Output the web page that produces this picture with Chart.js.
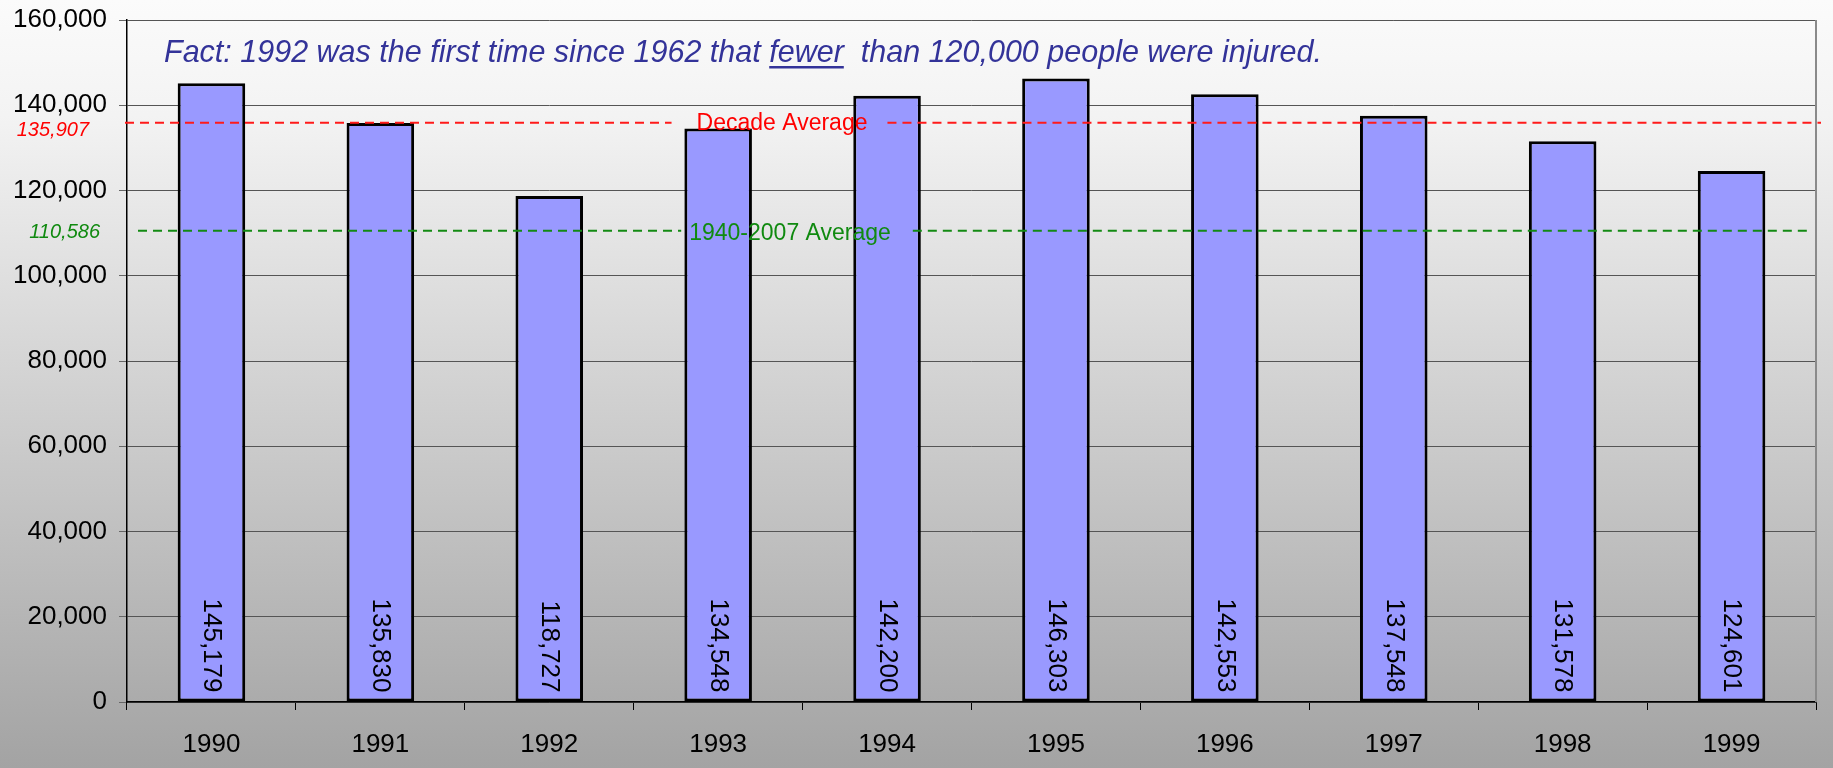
<!DOCTYPE html>
<html>
<head>
<meta charset="utf-8">
<script src="https://cdn.jsdelivr.net/npm/chart.js@4/dist/chart.umd.min.js"></script>
<style>
  html, body { margin: 0; padding: 0; background: #bbb; }
  #wrap { width: 1833px; height: 768px; }
</style>
</head>
<body>
<div id="wrap"><canvas id="c" width="1833" height="768"></canvas></div>
<script>
// ---- data ----
const years = ['1990', '1991', '1992', '1993', '1994', '1995', '1996', '1997', '1998', '1999'];
const injured = [145179, 135830, 118727, 134548, 142200, 146303, 142553, 137548, 131578, 124601];
const decadeAverage = 135907;
const longAverage = 110586;
const decadeLabel = 'Decade Average';
const longLabel = '1940-2007 Average';
const titlePre = 'Fact: 1992 was the first time since 1962 that ';
const titleUnder = 'fewer';
const titlePost = '  than 120,000 people were injured.';

const FONT = "'Liberation Sans', Arial, Helvetica, sans-serif";
const fmt = v => Number(v).toLocaleString('en-US');

const bgPlugin = {
  id: 'bg',
  beforeDraw(chart) {
    const ctx = chart.ctx;
    const g = ctx.createLinearGradient(0, 0, 0, chart.height);
    g.addColorStop(0, '#fbfbfb');
    g.addColorStop(0.15, '#f3f3f3');
    g.addColorStop(1, '#a3a3a3');
    ctx.save();
    ctx.fillStyle = g;
    ctx.fillRect(0, 0, chart.width, chart.height);
    ctx.restore();
  }
};

function dashedWithGap(ctx, x0, x1, y, gapL, gapR) {
  ctx.beginPath();
  ctx.moveTo(x0, y); ctx.lineTo(gapL, y);
  ctx.stroke();
  ctx.beginPath();
  ctx.moveTo(gapR, y); ctx.lineTo(x1, y);
  ctx.stroke();
}

const overlayPlugin = {
  id: 'overlay',
  afterDatasetsDraw(chart) {
    const ctx = chart.ctx;
    const a = chart.chartArea;
    const ys = chart.scales.y;
    const meta = chart.getDatasetMeta(0);
    ctx.save();

    // right border of plot
    ctx.strokeStyle = '#8a8a8a';
    ctx.lineWidth = 2;
    ctx.beginPath();
    ctx.moveTo(a.right, a.top); ctx.lineTo(a.right, a.bottom);
    ctx.stroke();

    // value labels (rotated)
    ctx.fillStyle = '#000';
    ctx.font = '26px ' + FONT;
    meta.data.forEach((bar, i) => {
      ctx.save();
      ctx.translate(bar.x, bar.base - 9);
      ctx.rotate(Math.PI / 2);
      ctx.textAlign = 'right';
      ctx.textBaseline = 'middle';
      ctx.fillText(fmt(injured[i]), 0, 0);
      ctx.restore();
    });

    // average lines
    ctx.lineWidth = 2;
    ctx.setLineDash([9, 6]);
    ctx.font = '23px ' + FONT;
    const yr = ys.getPixelForValue(decadeAverage);
    const wr = ctx.measureText(decadeLabel).width;
    const cr = 782;
    ctx.strokeStyle = '#ff1a1a';
    dashedWithGap(ctx, a.left - 2, a.right + 5, yr, cr - wr / 2 - 25, cr + wr / 2 + 20);
    const yg = ys.getPixelForValue(longAverage);
    const wg = ctx.measureText(longLabel).width;
    const cg = 790;
    ctx.strokeStyle = '#138a13';
    dashedWithGap(ctx, a.left + 11, a.right - 9, yg, cg - wg / 2 - 8, cg + wg / 2 + 22);
    ctx.setLineDash([]);

    ctx.textAlign = 'center';
    ctx.textBaseline = 'middle';
    ctx.fillStyle = '#ff0000';
    ctx.fillText(decadeLabel, cr, yr + 1);
    ctx.fillStyle = '#108a10';
    ctx.fillText(longLabel, cg, yg + 3);

    // average values at left
    ctx.font = 'italic 20px ' + FONT;
    ctx.textAlign = 'right';
    ctx.fillStyle = '#ff0000';
    ctx.fillText(fmt(decadeAverage), 89, yr + 8);
    ctx.fillStyle = '#108a10';
    ctx.fillText(fmt(longAverage), 100, yg + 2);

    // title
    ctx.font = 'italic 30.5px ' + FONT;
    ctx.textAlign = 'left';
    ctx.textBaseline = 'alphabetic';
    ctx.fillStyle = '#333399';
    let x = 164;
    const by = 62;
    ctx.fillText(titlePre, x, by);
    x += ctx.measureText(titlePre).width;
    const wu = ctx.measureText(titleUnder).width;
    ctx.fillText(titleUnder, x, by);
    ctx.fillRect(x, by + 4, wu, 2.5);
    x += wu;
    ctx.fillText(titlePost, x, by);

    ctx.restore();
  }
};

new Chart(document.getElementById('c'), {
  type: 'bar',
  data: {
    labels: years,
    datasets: [{
      data: injured,
      backgroundColor: '#9999ff',
      borderColor: '#000000',
      borderWidth: 3,
      borderSkipped: false,
      categoryPercentage: 1.0,
      barPercentage: 0.4
    }]
  },
  options: {
    responsive: false,
    devicePixelRatio: 1,
    animation: false,
    layout: { padding: { top: 20, right: 17, left: 0, bottom: 0 } },
    plugins: {
      legend: { display: false },
      tooltip: { enabled: false },
      title: { display: false }
    },
    scales: {
      x: {
        grid: {
          display: true,
          drawOnChartArea: false,
          drawTicks: true,
          tickLength: 8,
          color: '#000',
          tickColor: '#000',
          offset: true
        },
        border: { display: true, color: '#000', width: 1.5 },
        ticks: {
          color: '#000',
          font: { family: FONT, size: 26 },
          padding: 19,
          maxRotation: 0
        },
        afterFit(scale) { scale.height = 66; scale.paddingLeft = 0; scale.paddingRight = 0; }
      },
      y: {
        min: 0,
        max: 160000,
        ticks: {
          stepSize: 20000,
          color: '#000',
          font: { family: FONT, size: 26 },
          padding: 12,
          callback: v => fmt(v)
        },
        grid: {
          color: '#555',
          lineWidth: 1,
          tickLength: 8,
          tickColor: '#666'
        },
        border: { display: true, color: '#000', width: 1.5 },
        afterFit(scale) { scale.width = 127; scale.paddingTop = 0; scale.paddingBottom = 0; }
      }
    }
  },
  plugins: [bgPlugin, overlayPlugin]
});
</script>
</body>
</html>
